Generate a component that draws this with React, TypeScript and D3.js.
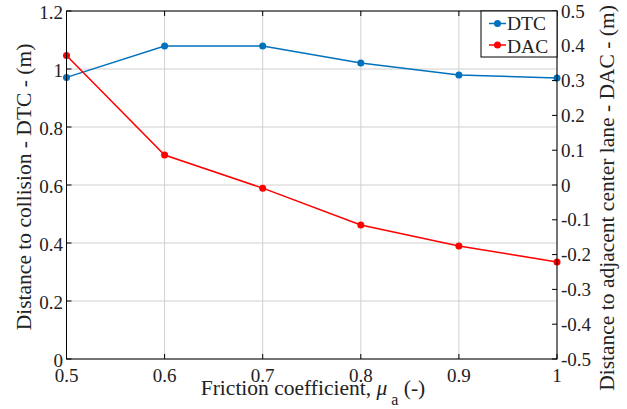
import React from "react";
import * as d3 from "d3";

const frictionCoeff = [0.5, 0.6, 0.7, 0.8, 0.9, 1.0];
const dtcValues = [0.971, 1.079, 1.079, 1.021, 0.979, 0.969];
const dacValues = [0.372, 0.086, -0.009, -0.115, -0.175, -0.221];
const xTicks = [0.5, 0.6, 0.7, 0.8, 0.9, 1];
const leftTicks = [0, 0.2, 0.4, 0.6, 0.8, 1, 1.2];
const rightTicks = [-0.5, -0.4, -0.3, -0.2, -0.1, 0, 0.1, 0.2, 0.3, 0.4, 0.5];

const W = 627;
const H = 409;
const M = { left: 66.5, right: 557, top: 11, bottom: 359 };
const TXT: React.CSSProperties = { fontFamily: '"Liberation Serif"', fill: "#222" };
const BLUE = "#0072BD";
const RED = "#FF0000";

const fmt = (v: number) => d3.format("~g")(Math.round(v * 10) / 10).replace("−", "-");

export default function App() {
  const x = d3.scaleLinear().domain([0.5, 1]).range([M.left, M.right]);
  const yL = d3.scaleLinear().domain([0, 1.2]).range([M.bottom, M.top]);
  const yR = d3.scaleLinear().domain([-0.5, 0.5]).range([M.bottom, M.top]);

  const lineL = d3.line<number>().x((_, i) => x(frictionCoeff[i])).y((d) => yL(d));
  const lineR = d3.line<number>().x((_, i) => x(frictionCoeff[i])).y((d) => yR(d));

  const tick = 5;
  return (
    <svg width={W} height={H} style={{ position: "absolute", left: 0, top: 0 }}>
      <rect width={W} height={H} fill="#fff" />
      {/* grid */}
      {xTicks.map((t) => (
        <line key={"gx" + t} x1={x(t)} x2={x(t)} y1={M.top} y2={M.bottom} stroke="#d0d0d0" strokeWidth={1} />
      ))}
      {leftTicks.map((t) => (
        <line key={"gy" + t} x1={M.left} x2={M.right} y1={yL(t)} y2={yL(t)} stroke="#d0d0d0" strokeWidth={1} />
      ))}
      {/* series */}
      <path d={lineL(dtcValues) || ""} fill="none" stroke={BLUE} strokeWidth={1.5} />
      <path d={lineR(dacValues) || ""} fill="none" stroke={RED} strokeWidth={1.5} />
      {dtcValues.map((v, i) => (
        <circle key={"b" + i} cx={x(frictionCoeff[i])} cy={yL(v)} r={3.5} fill={BLUE} />
      ))}
      {dacValues.map((v, i) => (
        <circle key={"r" + i} cx={x(frictionCoeff[i])} cy={yR(v)} r={3.5} fill={RED} />
      ))}
      {/* box */}
      <rect x={M.left} y={M.top} width={M.right - M.left} height={M.bottom - M.top} fill="none" stroke="#000" strokeWidth={1} />
      {/* x ticks */}
      {xTicks.map((t) => (
        <g key={"xt" + t}>
          <line x1={x(t)} x2={x(t)} y1={M.bottom} y2={M.bottom - tick} stroke="#000" />
          <line x1={x(t)} x2={x(t)} y1={M.top} y2={M.top + tick} stroke="#000" />
          <text x={x(t)} y={382} textAnchor="middle" fontSize={19} style={TXT}>{fmt(t)}</text>
        </g>
      ))}
      {leftTicks.map((t) => (
        <g key={"lt" + t}>
          <line x1={M.left} x2={M.left + tick} y1={yL(t)} y2={yL(t)} stroke="#000" />
          <text x={M.left - 3.5} y={yL(t) + 7.5} textAnchor="end" fontSize={19} style={TXT}>{fmt(t)}</text>
        </g>
      ))}
      {rightTicks.map((t) => (
        <g key={"rt" + t}>
          <line x1={M.right} x2={M.right - tick} y1={yR(t)} y2={yR(t)} stroke="#000" />
          <text x={M.right + 4} y={yR(t) + 6.5} textAnchor="start" fontSize={19} style={TXT}>{fmt(t)}</text>
        </g>
      ))}
      {/* axis labels */}
      <text x={313} y={395} textAnchor="middle" fontSize={21.5} style={TXT}>
        Friction coefficient, <tspan fontStyle="italic">μ</tspan>
        <tspan fontSize={16} dy={10}> a</tspan>
        <tspan dy={-10}> (-)</tspan>
      </text>
      <text transform={`translate(31,187) rotate(-90)`} textAnchor="middle" fontSize={21.5} style={TXT}>
        Distance to collision - DTC - (m)
      </text>
      <text transform={`translate(614,198) rotate(-90)`} textAnchor="middle" fontSize={21.5} style={TXT}>
        Distance to adjacent center lane - DAC - (m)
      </text>
      {/* legend */}
      <rect x={481} y={M.top} width={M.right - 481} height={46} fill="#fff" stroke="#000" strokeWidth={1} />
      <line x1={489} x2={506} y1={23.5} y2={23.5} stroke={BLUE} strokeWidth={1.5} />
      <circle cx={497.5} cy={23.5} r={3.5} fill={BLUE} />
      <text x={507} y={30} fontSize={19.5} style={TXT}>DTC</text>
      <line x1={489} x2={506} y1={45} y2={45} stroke={RED} strokeWidth={1.5} />
      <circle cx={497.5} cy={45} r={3.5} fill={RED} />
      <text x={507} y={52.5} fontSize={19.5} style={TXT}>DAC</text>
    </svg>
  );
}
